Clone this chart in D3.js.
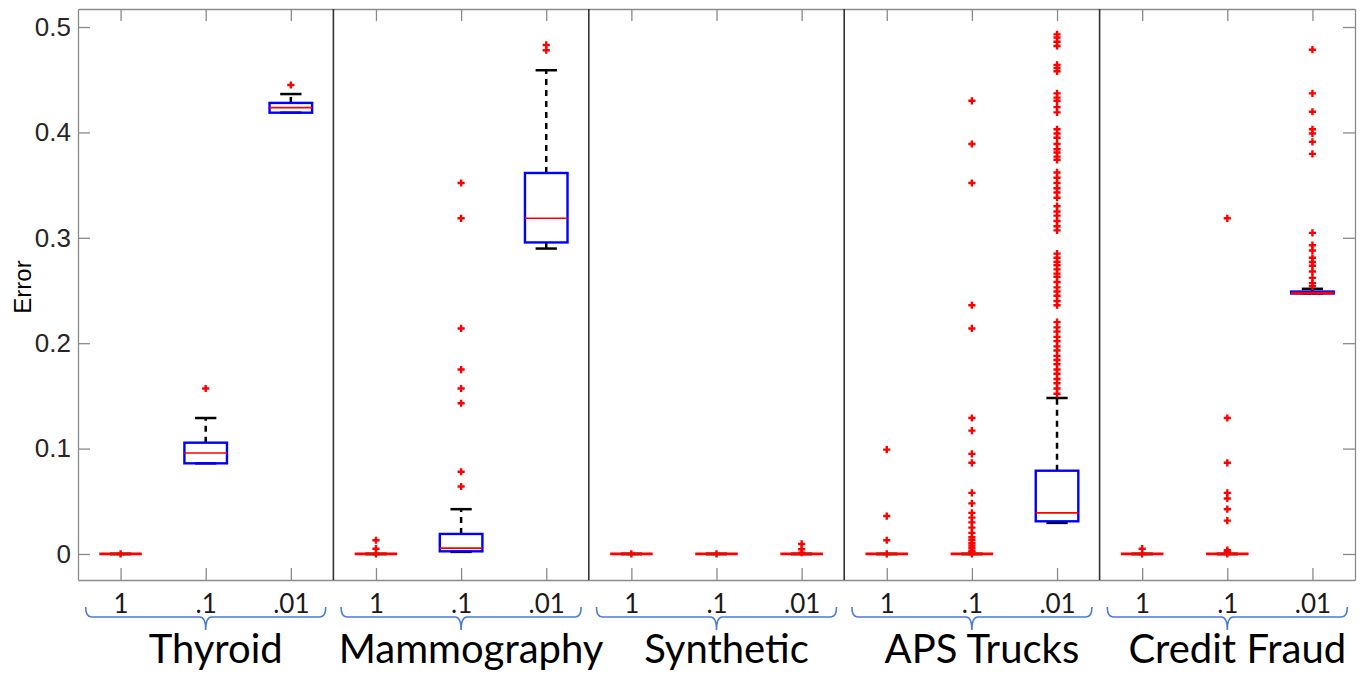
<!DOCTYPE html>
<html>
<head>
<meta charset="utf-8">
<script src="https://cdn.jsdelivr.net/npm/d3@7"></script>
<style>
  html, body { margin: 0; padding: 0; background: #fff; }
  svg { display: block; }
</style>
</head>
<body>
<svg id="chart" width="1372" height="677"></svg>
<script>
/* Box plots of error per dataset and sampling rate (MATLAB-style boxplot look) */

var datasets = ['Thyroid', 'Mammography', 'Synthetic', 'APS Trucks', 'Credit Fraud'];
var rates = ['1', '.1', '.01'];
var yTicks = [0, 0.1, 0.2, 0.3, 0.4, 0.5];

/* one entry per box, in order dataset x rate */
var q1s     = [0, 0.086,  0.4187, 0, 0.0025, 0.2956, 0, 0, 0, 0, 0, 0.031, 0, 0, 0.2472];
var medians = [0, 0.0958, 0.4235, 0, 0.0055, 0.3185, 0, 0, 0, 0, 0, 0.039, 0, 0, 0.2475];
var q3s     = [0, 0.1056, 0.428,  0, 0.019,  0.3615, 0, 0, 0, 0, 0, 0.079, 0, 0, 0.249];
var whiskLo = [0, 0.086,  0.4187, 0, 0.002,  0.2898, 0, 0, 0, 0, 0, 0.0295, 0, 0, 0.2472];
var whiskHi = [0, 0.129,  0.4364, 0, 0.0425, 0.459,  0, 0, 0, 0, 0, 0.148, 0, 0, 0.2516];

var outliers = [
  [0],
  [0.157],
  [0.445],
  [0.013, 0.005, 0],
  [0.064, 0.078, 0.143, 0.157, 0.175, 0.214, 0.3185, 0.352],
  [0.478, 0.483],
  [0],
  [0],
  [0.0095, 0.0045, 0.0013],
  [0.099, 0.036, 0.013, 0],
  [0.430, 0.389, 0.352, 0.236, 0.214, 0.129, 0.117, 0.095, 0.0865, 0.058, 0.048, 0.039,
   0.0345, 0.030, 0.025, 0.020, 0.016, 0.0135, 0.0105, 0.008, 0.0055, 0.003, 0.0015, 0],
  [0.493, 0.490, 0.486, 0.482,
   0.464, 0.461, 0.458,
   0.437, 0.433, 0.430, 0.424, 0.419,
   0.403, 0.399, 0.395, 0.389, 0.384, 0.381, 0.377, 0.374,
   0.362, 0.357, 0.352, 0.347, 0.343, 0.338,
   0.330, 0.325, 0.321, 0.316, 0.311, 0.307,
   0.285, 0.281, 0.277, 0.274, 0.270, 0.266, 0.263, 0.258, 0.253, 0.249, 0.245, 0.240, 0.236,
   0.220, 0.215, 0.211, 0.206, 0.202, 0.197, 0.193, 0.188, 0.184, 0.180, 0.175, 0.171,
   0.166, 0.162, 0.157, 0.152],
  [0.005, 0],
  [0.3185, 0.129, 0.0865, 0.058, 0.0527, 0.0425, 0.0316, 0.0036, 0.002, 0],
  [0.4785, 0.437, 0.4196, 0.403, 0.399, 0.391, 0.3796, 0.3047, 0.293, 0.288, 0.281,
   0.277, 0.2735, 0.268, 0.262, 0.257, 0.254]
];

(function () {
  'use strict';
  var svg = d3.select('#chart');
  var left = 78, right = 1355, top = 9, bottom = 580;
  var axisGray = '#8a8a8a';
  var textDark = '#262626';
  var nBox = datasets.length * rates.length;
  var positions = d3.range(1, nBox + 1);

  var x = d3.scaleLinear().domain([0.5, nBox + 0.5]).range([left, right]);
  var y = d3.scaleLinear().domain([-0.0247, 0.5171]).range([bottom, top]);

  /* axes: ticks point inward on all four sides */
  var gL = svg.append('g').attr('transform', 'translate(' + left + ',0)')
    .call(d3.axisLeft(y).tickValues(yTicks).tickSize(-12).tickSizeOuter(0).tickPadding(7)
      .tickFormat(function (d) { return d === 0 ? '0' : d3.format('.1f')(d); }));
  var gR = svg.append('g').attr('transform', 'translate(' + right + ',0)')
    .call(d3.axisRight(y).tickValues(yTicks).tickSize(-12).tickSizeOuter(0).tickFormat(''));
  var gT = svg.append('g').attr('transform', 'translate(0,' + top + ')')
    .call(d3.axisTop(x).tickValues(positions).tickSize(-12).tickSizeOuter(0).tickFormat(''));
  var gB = svg.append('g').attr('transform', 'translate(0,' + bottom + ')')
    .call(d3.axisBottom(x).tickValues(positions).tickSize(-12).tickSizeOuter(0).tickPadding(15)
      .tickFormat(function (d) { return rates[(d - 1) % rates.length]; }));

  [gL, gR, gT, gB].forEach(function (g) {
    g.selectAll('.domain, .tick line').attr('stroke', axisGray).attr('stroke-width', 1.3);
  });
  gL.selectAll('text').attr('fill', textDark)
    .style('font-family', '"Liberation Sans", Arial, Helvetica, sans-serif').style('font-size', '26px');
  gB.selectAll('text').attr('fill', '#1a1a1a')
    .style('font-family', 'Lato, "Open Sans", sans-serif').style('font-size', '26px');

  /* separators between datasets */
  svg.append('g').selectAll('line')
    .data(d3.range(1, datasets.length))
    .join('line')
    .attr('x1', function (k) { return x(k * rates.length + 0.5); })
    .attr('x2', function (k) { return x(k * rates.length + 0.5); })
    .attr('y1', top).attr('y2', bottom)
    .attr('stroke', '#333').attr('stroke-width', 1.6);

  var boxes = positions.map(function (p, i) {
    return { p: p, q1: q1s[i], med: medians[i], q3: q3s[i], lo: whiskLo[i], hi: whiskHi[i], out: outliers[i] };
  });

  var gBox = svg.append('g');
  var halfBox = 0.25, halfCap = 0.125;

  /* whiskers (dashed) and caps */
  gBox.selectAll('line.whisk-hi').data(boxes).join('line')
    .attr('x1', function (d) { return x(d.p); }).attr('x2', function (d) { return x(d.p); })
    .attr('y1', function (d) { return y(d.q3); }).attr('y2', function (d) { return y(d.hi); })
    .attr('stroke', '#000').attr('stroke-width', 2.5).attr('stroke-dasharray', '6,5');
  gBox.selectAll('line.whisk-lo').data(boxes).join('line')
    .attr('x1', function (d) { return x(d.p); }).attr('x2', function (d) { return x(d.p); })
    .attr('y1', function (d) { return y(d.q1); }).attr('y2', function (d) { return y(d.lo); })
    .attr('stroke', '#000').attr('stroke-width', 2.5).attr('stroke-dasharray', '6,5');
  ['hi', 'lo'].forEach(function (k) {
    gBox.append('g').selectAll('line').data(boxes).join('line')
      .attr('x1', function (d) { return x(d.p - halfCap); })
      .attr('x2', function (d) { return x(d.p + halfCap); })
      .attr('y1', function (d) { return y(d[k]); }).attr('y2', function (d) { return y(d[k]); })
      .attr('stroke', '#000').attr('stroke-width', 2.5);
  });

  /* boxes */
  gBox.append('g').selectAll('rect').data(boxes).join('rect')
    .attr('x', function (d) { return x(d.p - halfBox); })
    .attr('width', function (d) { return x(d.p + halfBox) - x(d.p - halfBox); })
    .attr('y', function (d) { return y(d.q3); })
    .attr('height', function (d) { return y(d.q1) - y(d.q3); })
    .attr('fill', 'none').attr('stroke', '#0000ff').attr('stroke-width', 2.4);

  /* medians */
  gBox.append('g').selectAll('line').data(boxes).join('line')
    .attr('x1', function (d) { return x(d.p - halfBox); })
    .attr('x2', function (d) { return x(d.p + halfBox); })
    .attr('y1', function (d) { return y(d.med); }).attr('y2', function (d) { return y(d.med); })
    .attr('stroke', '#ff0000')
    .attr('stroke-width', function (d) { return (y(d.q1) - y(d.q3)) < 2 ? 2.8 : 1.6; });

  /* outliers as '+' markers */
  var pts = [];
  boxes.forEach(function (d) { d.out.forEach(function (v) { pts.push({ p: d.p, v: v }); }); });
  svg.append('g').selectAll('path').data(pts).join('path')
    .attr('transform', function (d) { return 'translate(' + x(d.p) + ',' + y(d.v) + ')'; })
    .attr('d', 'M-3.6,0H3.6M0,-3.6V3.6')
    .attr('stroke', '#ff0000').attr('stroke-width', 2.4).attr('fill', 'none');

  /* y axis label */
  svg.append('text')
    .attr('transform', 'translate(31,287) rotate(-90)')
    .attr('text-anchor', 'middle')
    .style('font-family', '"Liberation Sans", Arial, Helvetica, sans-serif')
    .style('font-size', '24px').attr('fill', '#000')
    .text('Error');

  /* curly brackets and dataset names below the axis */
  var bracketY = 617, endY = 607, stubY = 630, r = 6;
  var gGrp = svg.append('g');
  datasets.forEach(function (name, k) {
    var pFirst = k * rates.length + 1, pLast = pFirst + rates.length - 1;
    var xl = x(pFirst - 0.41), xr = x(pLast + 0.41), xc = x((pFirst + pLast) / 2);
    var path = d3.path();
    path.moveTo(xl, endY);
    path.quadraticCurveTo(xl, bracketY, xl + r, bracketY);
    path.lineTo(xc - r, bracketY);
    path.quadraticCurveTo(xc, bracketY, xc, stubY);
    path.quadraticCurveTo(xc, bracketY, xc + r, bracketY);
    path.lineTo(xr - r, bracketY);
    path.quadraticCurveTo(xr, bracketY, xr, endY);
    gGrp.append('path').attr('d', path.toString())
      .attr('fill', 'none').attr('stroke', '#4a7cd3').attr('stroke-width', 1.6);
    gGrp.append('text')
      .attr('x', xc + 10).attr('y', 663)
      .attr('text-anchor', 'middle')
      .style('font-family', 'Lato, "Open Sans", sans-serif').style('font-size', '40px')
      .attr('fill', '#000')
      .text(name);
  });
})();
</script>
</body>
</html>
